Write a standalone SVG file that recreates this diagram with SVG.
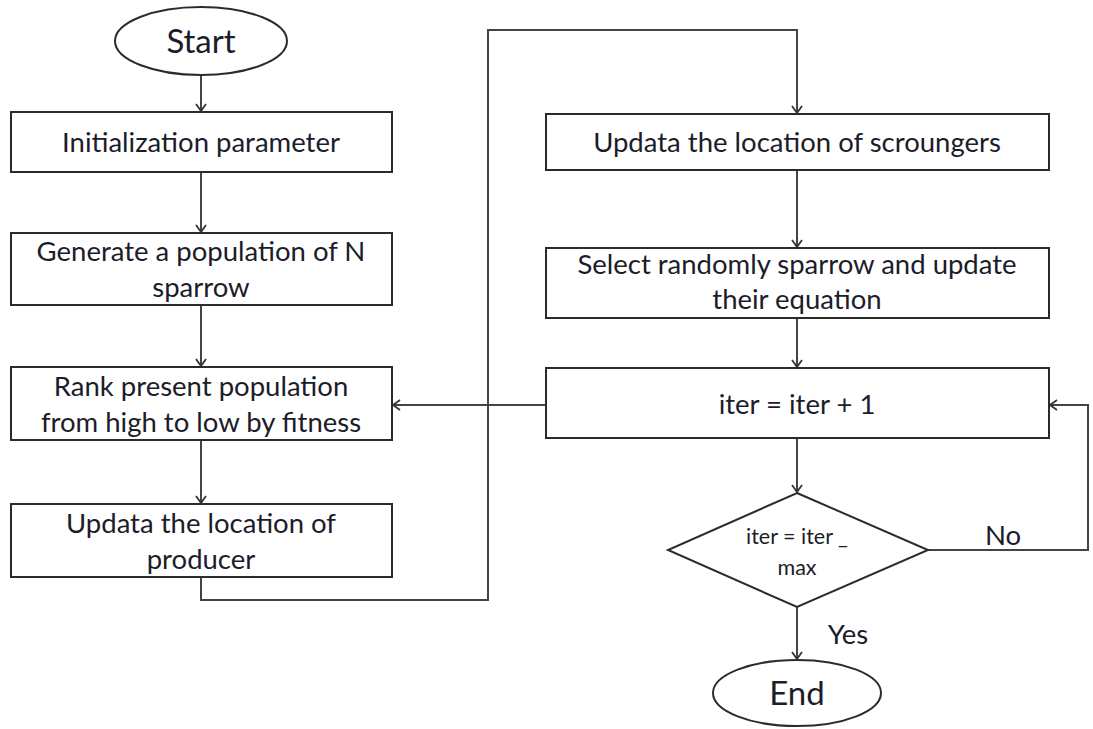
<svg xmlns="http://www.w3.org/2000/svg" width="1093" height="729" viewBox="0 0 1093 729">
<defs>
<style>
.n{fill:#fff;stroke:#2b2b2b;stroke-width:2}
.t{font-family:Lato,"Open Sans","Liberation Sans",sans-serif;font-size:27.5px;fill:#1c1c2a;text-anchor:middle}
.c{fill:none;stroke:#444;stroke-width:2}
</style>
<marker id="a" markerWidth="12" markerHeight="12" refX="10" refY="6" orient="auto" markerUnits="userSpaceOnUse">
<path d="M3,1 L10,6 L3,11" fill="none" stroke="#333" stroke-width="1.8"/>
</marker>
</defs>
<rect width="1093" height="729" fill="#fff"/>
<g id="connectors">
<path class="c" d="M201,75 V111" marker-end="url(#a)"/>
<path class="c" d="M201,172 V232" marker-end="url(#a)"/>
<path class="c" d="M201,305 V366" marker-end="url(#a)"/>
<path class="c" d="M201,440 V503" marker-end="url(#a)"/>
<path class="c" d="M201,577 V600 H488 V30 H797 V113" marker-end="url(#a)"/>
<path class="c" d="M797,170 V247" marker-end="url(#a)"/>
<path class="c" d="M797,318 V367" marker-end="url(#a)"/>
<path class="c" d="M546,405 H393" marker-end="url(#a)"/>
<path class="c" d="M797,438 V492" marker-end="url(#a)"/>
<path class="c" d="M797,607 V659" marker-end="url(#a)"/>
<path class="c" d="M928,550 H1088 V405 H1050" marker-end="url(#a)"/>
<text class="t" x="1003" y="545">No</text>
<text class="t" x="848" y="644">Yes</text>
</g>
<g id="start">
<ellipse class="n" cx="201" cy="41" rx="86" ry="34"/>
<text class="t" x="201" y="53" style="font-size:33px">Start</text>
</g>
<g id="init">
<rect class="n" x="11" y="112" width="381" height="60"/>
<text class="t" x="201" y="152">Initialization parameter</text>
</g>
<g id="generate">
<rect class="n" x="11" y="233" width="381" height="72"/>
<text class="t" x="201" y="261">Generate a population of N</text>
<text class="t" x="201" y="297">sparrow</text>
</g>
<g id="rank">
<rect class="n" x="11" y="367" width="381" height="73"/>
<text class="t" x="201" y="396">Rank present population</text>
<text class="t" x="201" y="432">from high to low by fitness</text>
</g>
<g id="producer">
<rect class="n" x="11" y="504" width="381" height="73"/>
<text class="t" x="201" y="533">Updata the location of</text>
<text class="t" x="201" y="569">producer</text>
</g>
<g id="scroungers">
<rect class="n" x="546" y="114" width="503" height="56"/>
<text class="t" x="797" y="152">Updata the location of scroungers</text>
</g>
<g id="select">
<rect class="n" x="546" y="248" width="503" height="70"/>
<text class="t" x="797" y="274">Select randomly sparrow and update</text>
<text class="t" x="797" y="309">their equation</text>
</g>
<g id="iter">
<rect class="n" x="546" y="368" width="503" height="70"/>
<text class="t" x="797" y="414">iter = iter + 1</text>
</g>
<g id="decision">
<polygon class="n" points="797,493 928,550 797,607 668,550"/>
<text class="t" x="797" y="544" style="font-size:21.5px">iter = iter _</text>
<text class="t" x="797" y="575" style="font-size:21.5px">max</text>
</g>
<g id="end">
<ellipse class="n" cx="797" cy="693" rx="84" ry="33"/>
<text class="t" x="797" y="705" style="font-size:33px">End</text>
</g>
</svg>
